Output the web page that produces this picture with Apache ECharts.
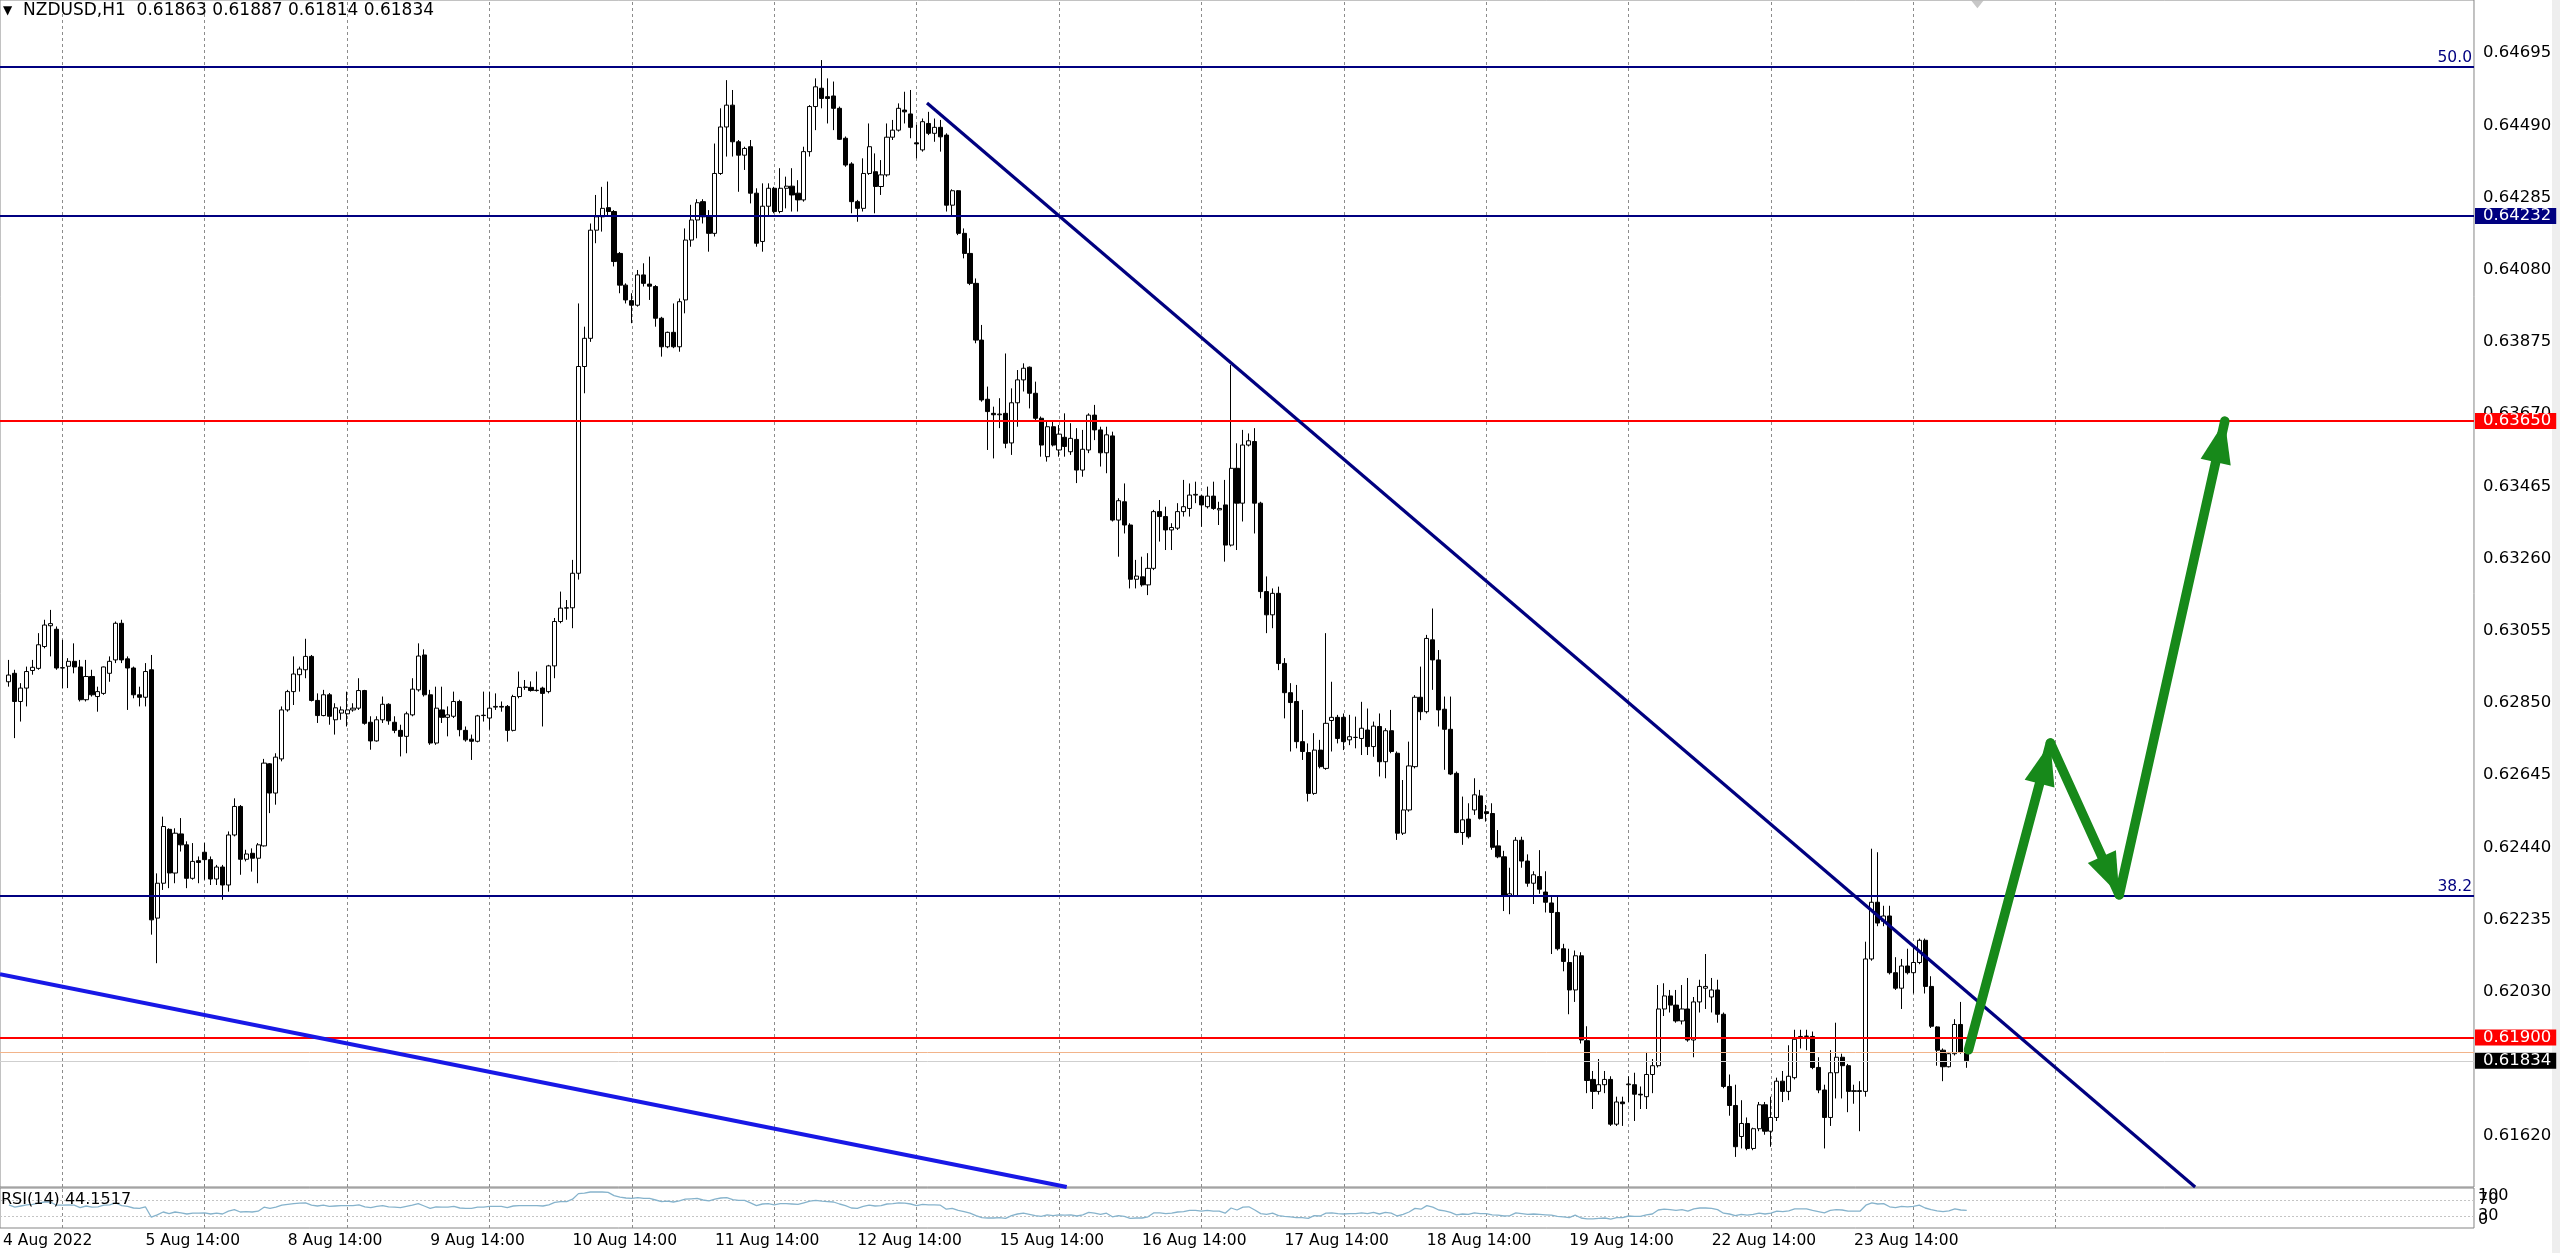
<!DOCTYPE html>
<html><head><meta charset="utf-8">
<script src="https://cdn.jsdelivr.net/npm/echarts@6/dist/echarts.min.js"></script>
<style>html,body{margin:0;padding:0;background:#fff;overflow:hidden}#c{width:2560px;height:1253px}</style>
</head><body><div id="c"></div>
<script>
// ---------- DATA (NZDUSD H1, bar 0 = 4 Aug 15:00) ----------
const symbolName = 'NZDUSD,H1';
const open = [
0.62910,0.62934,0.62854,0.62892,0.62942,0.62948,0.63010,0.63069,0.63059,0.62949,0.62954,0.62968,0.62952,0.62859,0.62925,0.62868,0.62877,0.62934,0.62972,0.63076,0.62975,0.62949,0.62873,0.62866,
0.62944,0.62239,0.62338,0.62491,0.62367,0.62478,0.62447,0.62352,0.62402,0.62426,0.62405,0.62350,0.62384,0.62333,0.62475,0.62556,0.62406,0.62423,0.62409,0.62444,0.62677,0.62594,0.62691,0.62830,
0.62882,0.62930,0.62944,0.62982,0.62857,0.62814,0.62873,0.62802,0.62821,0.62819,0.62830,0.62835,0.62885,0.62795,0.62742,0.62802,0.62846,0.62795,0.62772,0.62755,0.62816,0.62887,0.62986,0.62873,
0.62736,0.62830,0.62809,0.62812,0.62854,0.62772,0.62747,0.62741,0.62814,0.62807,0.62838,0.62840,0.62840,0.62772,0.62868,0.62894,0.62894,0.62885,0.62892,0.62882,0.62955,0.63081,0.63119,0.63120,
0.63218,0.63805,0.63885,0.64192,0.64230,0.64256,0.64245,0.64126,0.64036,0.63992,0.63979,0.64065,0.64039,0.64032,0.63942,0.63861,0.63902,0.63861,0.63994,0.64164,0.64221,0.64273,0.64230,0.64183,
0.64353,0.64485,0.64547,0.64443,0.64405,0.64429,0.64297,0.64160,0.64260,0.64311,0.64245,0.64311,0.64317,0.64297,0.64278,0.64415,0.64543,0.64595,0.64571,0.64573,0.64538,0.64453,0.64380,0.64273,
0.64254,0.64353,0.64358,0.64316,0.64349,0.64456,0.64476,0.64533,0.64522,0.64440,0.64420,0.64495,0.64467,0.64484,0.64462,0.64263,0.64304,0.64183,0.64126,0.64041,0.63880,0.63712,0.63672,0.63668,
0.63672,0.63588,0.63702,0.63767,0.63803,0.63729,0.63658,0.63549,0.63634,0.63568,0.63604,0.63563,0.63598,0.63511,0.63568,0.63667,0.63625,0.63560,0.63608,0.63369,0.63421,0.63355,0.63201,0.63208,
0.63185,0.63232,0.63393,0.63379,0.63341,0.63346,0.63393,0.63402,0.63440,0.63437,0.63407,0.63437,0.63398,0.63412,0.63298,0.63516,0.63417,0.63582,0.63592,0.63417,0.63166,0.63100,0.63161,0.62962,
0.62879,0.62854,0.62740,0.62709,0.62593,0.62716,0.62664,0.62800,0.62809,0.62809,0.62745,0.62752,0.62749,0.62773,0.62726,0.62783,0.62683,0.62771,0.62707,0.62480,0.62546,0.62669,0.62866,0.62825,
0.63029,0.62972,0.62832,0.62775,0.62650,0.62482,0.62520,0.62546,0.62586,0.62541,0.62536,0.62444,0.62413,0.62303,0.62303,0.62460,0.62401,0.62338,0.62357,0.62313,0.62282,0.62255,0.62152,0.62113,
0.62035,0.62132,0.61891,0.61781,0.61747,0.61766,0.61781,0.61654,0.61717,0.61766,0.61766,0.61739,0.61732,0.61795,0.61820,0.61981,0.62018,0.61992,0.61947,0.61981,0.61893,0.62001,0.62040,0.62015,
0.62035,0.61966,0.61761,0.61707,0.61619,0.61656,0.61585,0.61641,0.61709,0.61634,0.61673,0.61776,0.61747,0.61786,0.61898,0.61903,0.61903,0.61815,0.61751,0.61673,0.61800,0.61844,0.61820,0.61747,
0.61749,0.61747,0.62123,0.62284,0.62230,0.62245,0.62084,0.62040,0.62103,0.62084,0.62113,0.62176,0.62045,0.61930,0.61864,0.61817,0.61854,0.61937,0.61863];
const high = [
0.62972,0.62944,0.62906,0.62953,0.62972,0.63048,0.63086,0.63114,0.63067,0.63029,0.62977,0.63019,0.62972,0.62972,0.62944,0.62896,0.62953,0.62982,0.63081,0.63086,0.62982,0.62953,0.62896,0.62963,
0.62986,0.62366,0.62527,0.62494,0.62494,0.62523,0.62457,0.62452,0.62414,0.62452,0.62414,0.62390,0.62390,0.62485,0.62579,0.62560,0.62433,0.62437,0.62452,0.62691,0.62679,0.62707,0.62840,0.62887,
0.62982,0.62953,0.63032,0.62986,0.62877,0.62887,0.62878,0.62849,0.62840,0.62882,0.62849,0.62920,0.62887,0.62812,0.62812,0.62868,0.62849,0.62812,0.62788,0.62825,0.62920,0.63019,0.63002,0.62887,
0.62896,0.62896,0.62840,0.62882,0.62859,0.62783,0.62760,0.62816,0.62882,0.62882,0.62877,0.62854,0.62844,0.62873,0.62939,0.62915,0.62911,0.62939,0.62896,0.62958,0.63091,0.63166,0.63142,0.63256,
0.63984,0.63918,0.64211,0.64292,0.64315,0.64330,0.64249,0.64130,0.64041,0.64013,0.64079,0.64098,0.64117,0.64036,0.63946,0.63904,0.63984,0.63998,0.64197,0.64264,0.64280,0.64280,0.64249,0.64438,
0.64538,0.64618,0.64590,0.64448,0.64429,0.64448,0.64311,0.64325,0.64325,0.64315,0.64368,0.64344,0.64368,0.64334,0.64429,0.64547,0.64623,0.64675,0.64623,0.64614,0.64543,0.64458,0.64385,0.64278,
0.64396,0.64495,0.64410,0.64391,0.64495,0.64505,0.64552,0.64585,0.64590,0.64491,0.64509,0.64528,0.64509,0.64505,0.64467,0.64308,0.64306,0.64197,0.64169,0.64055,0.63923,0.63748,0.63691,0.63715,
0.63842,0.63743,0.63795,0.63814,0.63805,0.63762,0.63663,0.63648,0.63648,0.63639,0.63672,0.63644,0.63630,0.63625,0.63672,0.63696,0.63634,0.63634,0.63620,0.63431,0.63473,0.63360,0.63256,0.63265,
0.63275,0.63398,0.63426,0.63407,0.63360,0.63417,0.63483,0.63473,0.63478,0.63440,0.63464,0.63478,0.63421,0.63483,0.63809,0.63587,0.63625,0.63615,0.63630,0.63421,0.63209,0.63175,0.63180,0.62977,
0.62906,0.62901,0.62830,0.62735,0.62764,0.62745,0.63048,0.62910,0.62816,0.62820,0.62816,0.62811,0.62853,0.62834,0.62797,0.62820,0.62778,0.62830,0.62712,0.62631,0.62740,0.62872,0.62953,0.63043,
0.63118,0.63000,0.62868,0.62868,0.62655,0.62584,0.62565,0.62636,0.62603,0.62560,0.62565,0.62489,0.62430,0.62382,0.62469,0.62470,0.62420,0.62372,0.62432,0.62372,0.62303,0.62303,0.62166,0.62152,
0.62147,0.62142,0.61932,0.61805,0.61839,0.61805,0.61790,0.61732,0.61732,0.61790,0.61800,0.61761,0.61859,0.61839,0.62049,0.62054,0.62035,0.62035,0.62049,0.62069,0.62015,0.62064,0.62137,0.62069,
0.62064,0.61971,0.61795,0.61766,0.61722,0.61673,0.61644,0.61717,0.61717,0.61732,0.61786,0.61805,0.61878,0.61922,0.61922,0.61922,0.61917,0.61844,0.61766,0.61864,0.61942,0.61854,0.61825,0.61766,
0.61776,0.62172,0.62436,0.62426,0.62274,0.62274,0.62128,0.62123,0.62152,0.62157,0.62181,0.62181,0.62074,0.61932,0.61869,0.61859,0.61952,0.62001,0.61887];
const low = [
0.62896,0.62750,0.62797,0.62840,0.62930,0.62944,0.63005,0.62982,0.62944,0.62892,0.62892,0.62934,0.62854,0.62854,0.62868,0.62825,0.62873,0.62910,0.62963,0.62963,0.62830,0.62863,0.62840,0.62840,
0.62192,0.62111,0.62319,0.62324,0.62338,0.62428,0.62324,0.62348,0.62338,0.62348,0.62333,0.62333,0.62291,0.62314,0.62471,0.62362,0.62400,0.62371,0.62338,0.62442,0.62537,0.62561,0.62684,0.62825,
0.62844,0.62882,0.62920,0.62854,0.62793,0.62812,0.62788,0.62760,0.62802,0.62783,0.62825,0.62830,0.62788,0.62717,0.62740,0.62793,0.62788,0.62764,0.62698,0.62707,0.62812,0.62882,0.62868,0.62731,
0.62731,0.62793,0.62755,0.62807,0.62755,0.62740,0.62688,0.62738,0.62797,0.62774,0.62830,0.62825,0.62740,0.62769,0.62863,0.62887,0.62882,0.62882,0.62783,0.62877,0.62920,0.63076,0.63086,0.63062,
0.63200,0.63729,0.63875,0.64155,0.64188,0.64235,0.64089,0.64013,0.63984,0.63928,0.63975,0.64032,0.63994,0.63918,0.63833,0.63857,0.63857,0.63847,0.63956,0.64145,0.64169,0.64211,0.64131,0.64174,
0.64349,0.64401,0.64401,0.64301,0.64363,0.64268,0.64145,0.64131,0.64235,0.64240,0.64240,0.64254,0.64245,0.64245,0.64273,0.64401,0.64476,0.64538,0.64495,0.64476,0.64448,0.64372,0.64240,0.64216,
0.64245,0.64349,0.64240,0.64292,0.64344,0.64448,0.64472,0.64495,0.64453,0.64396,0.64415,0.64462,0.64443,0.64415,0.64245,0.64235,0.64178,0.64112,0.64036,0.63871,0.63705,0.63568,0.63544,0.63630,
0.63573,0.63554,0.63634,0.63734,0.63686,0.63653,0.63549,0.63535,0.63578,0.63549,0.63549,0.63554,0.63474,0.63492,0.63559,0.63596,0.63521,0.63502,0.63365,0.63265,0.63331,0.63175,0.63175,0.63180,
0.63156,0.63227,0.63308,0.63284,0.63284,0.63341,0.63379,0.63379,0.63417,0.63350,0.63402,0.63398,0.63355,0.63251,0.63294,0.63284,0.63365,0.63578,0.63331,0.63147,0.63048,0.63062,0.62943,0.62806,
0.62712,0.62721,0.62688,0.62570,0.62589,0.62664,0.62660,0.62712,0.62735,0.62716,0.62730,0.62721,0.62702,0.62702,0.62697,0.62641,0.62636,0.62707,0.62461,0.62475,0.62541,0.62664,0.62801,0.62820,
0.62887,0.62783,0.62660,0.62645,0.62480,0.62447,0.62465,0.62532,0.62519,0.62513,0.62433,0.62409,0.62259,0.62250,0.62299,0.62382,0.62328,0.62279,0.62308,0.62255,0.62137,0.62147,0.62088,0.61966,
0.62001,0.61883,0.61742,0.61697,0.61738,0.61742,0.61649,0.61649,0.61649,0.61717,0.61663,0.61697,0.61697,0.61742,0.61815,0.61961,0.61971,0.61942,0.61937,0.61888,0.61844,0.61971,0.61981,0.61971,
0.61942,0.61756,0.61678,0.61561,0.61585,0.61580,0.61580,0.61634,0.61624,0.61590,0.61663,0.61717,0.61722,0.61781,0.61869,0.61864,0.61810,0.61742,0.61585,0.61649,0.61727,0.61727,0.61688,0.61712,
0.61634,0.61732,0.62118,0.62216,0.62216,0.62079,0.62035,0.61981,0.62079,0.62025,0.62108,0.62025,0.61927,0.61820,0.61776,0.61815,0.61849,0.61854,0.61814];
const close = [
0.62929,0.62854,0.62892,0.62939,0.62951,0.63015,0.63071,0.63075,0.62949,0.62950,0.62968,0.62952,0.62859,0.62925,0.62873,0.62882,0.62952,0.62968,0.63076,0.62972,0.62949,0.62873,0.62866,0.62939,
0.62234,0.62338,0.62499,0.62367,0.62480,0.62447,0.62352,0.62400,0.62397,0.62405,0.62350,0.62384,0.62333,0.62475,0.62556,0.62406,0.62421,0.62409,0.62447,0.62679,0.62594,0.62696,0.62830,0.62882,
0.62932,0.62946,0.62982,0.62857,0.62814,0.62873,0.62812,0.62836,0.62830,0.62830,0.62835,0.62885,0.62792,0.62742,0.62802,0.62846,0.62799,0.62772,0.62755,0.62819,0.62889,0.62983,0.62873,0.62736,
0.62835,0.62809,0.62816,0.62854,0.62774,0.62745,0.62741,0.62813,0.62815,0.62835,0.62840,0.62838,0.62772,0.62868,0.62894,0.62895,0.62885,0.62886,0.62877,0.62955,0.63081,0.63119,0.63120,0.63218,
0.63805,0.63885,0.64192,0.64230,0.64254,0.64245,0.64103,0.64036,0.63994,0.63979,0.64065,0.64041,0.64033,0.63942,0.63861,0.63902,0.63861,0.63989,0.64164,0.64221,0.64270,0.64230,0.64183,0.64353,
0.64485,0.64547,0.64443,0.64405,0.64424,0.64297,0.64155,0.64260,0.64311,0.64245,0.64311,0.64317,0.64292,0.64278,0.64415,0.64543,0.64599,0.64566,0.64566,0.64538,0.64450,0.64377,0.64273,0.64254,
0.64353,0.64429,0.64316,0.64349,0.64456,0.64476,0.64538,0.64528,0.64484,0.64437,0.64500,0.64467,0.64484,0.64457,0.64263,0.64304,0.64183,0.64126,0.64041,0.63880,0.63710,0.63677,0.63668,0.63670,
0.63587,0.63702,0.63767,0.63800,0.63729,0.63658,0.63582,0.63634,0.63582,0.63613,0.63578,0.63601,0.63511,0.63570,0.63667,0.63625,0.63560,0.63611,0.63369,0.63424,0.63355,0.63201,0.63210,0.63185,
0.63232,0.63393,0.63379,0.63341,0.63348,0.63393,0.63407,0.63440,0.63442,0.63412,0.63437,0.63402,0.63402,0.63298,0.63516,0.63417,0.63582,0.63594,0.63417,0.63166,0.63100,0.63161,0.62962,0.62879,
0.62851,0.62740,0.62712,0.62593,0.62716,0.62669,0.62792,0.62809,0.62749,0.62740,0.62754,0.62752,0.62778,0.62726,0.62784,0.62683,0.62771,0.62712,0.62480,0.62546,0.62671,0.62866,0.62825,0.63033,
0.62972,0.62830,0.62775,0.62648,0.62482,0.62518,0.62470,0.62589,0.62522,0.62536,0.62440,0.62413,0.62303,0.62308,0.62460,0.62401,0.62338,0.62362,0.62321,0.62284,0.62255,0.62152,0.62116,0.62035,
0.62132,0.61893,0.61778,0.61747,0.61766,0.61781,0.61654,0.61717,0.61712,0.61768,0.61739,0.61737,0.61795,0.61820,0.61981,0.62018,0.61992,0.61947,0.61981,0.61893,0.62001,0.62045,0.62045,0.62035,
0.61966,0.61761,0.61707,0.61590,0.61656,0.61585,0.61641,0.61709,0.61634,0.61673,0.61776,0.61747,0.61790,0.61895,0.61903,0.61904,0.61815,0.61751,0.61673,0.61800,0.61844,0.61820,0.61747,0.61749,
0.61747,0.62123,0.62284,0.62225,0.62245,0.62084,0.62040,0.62103,0.62084,0.62113,0.62176,0.62045,0.61932,0.61864,0.61817,0.61854,0.61937,0.61859,0.61834];
const rsi = [
58,52,55,58,59,62,65,65,57,57,58,57,51,55,52,53,57,58,63,56,54,50,49,53,
27,33,40,36,40,38,35,37,37,38,35,37,35,42,46,40,41,40,42,52,49,52,57,59,
61,62,63,57,55,57,54,55,56,56,56,58,53,51,54,56,53,52,51,54,57,61,55,49,
53,52,52,54,50,49,49,52,52,54,54,54,51,55,56,56,56,56,55,58,64,66,66,72,
86,87,90,90,90,89,81,77,75,74,76,74,74,70,66,67,65,68,72,73,74,70,68,72,
75,76,71,69,69,63,56,60,61,58,61,61,60,59,63,67,69,67,66,65,60,56,50,49,
54,57,55,56,60,61,63,62,60,56,59,58,58,57,47,49,44,41,37,31,26,25,25,26,
24,31,35,37,34,31,29,33,31,33,32,33,30,33,39,37,34,37,28,31,29,24,25,25,
28,38,38,36,37,40,41,44,44,42,44,42,42,37,50,45,52,53,45,36,34,37,31,29,
28,26,26,24,31,30,37,38,36,35,36,36,38,36,39,35,39,37,30,34,40,49,47,56,
52,45,43,39,33,35,34,38,36,36,33,32,30,31,38,36,34,35,34,33,32,29,28,26,
32,25,23,23,24,25,22,26,26,30,29,29,33,35,45,47,46,44,46,42,48,50,50,49,
46,37,35,31,34,32,34,37,35,37,42,41,43,48,48,48,44,41,38,44,46,45,42,42,
42,57,63,60,61,53,51,54,53,54,57,50,46,43,41,43,48,45,44.1517];
const timeTickLabels = ['4 Aug 2022','5 Aug 14:00','8 Aug 14:00','9 Aug 14:00','10 Aug 14:00','11 Aug 14:00','12 Aug 14:00',
  '15 Aug 14:00','16 Aug 14:00','17 Aug 14:00','18 Aug 14:00','19 Aug 14:00','22 Aug 14:00','23 Aug 14:00'];
const priceTicks = [0.61620,0.61825,0.62030,0.62235,0.62440,0.62645,0.62850,0.63055,0.63260,0.63465,0.63670,0.63875,0.64080,0.64285,0.64490,0.64695];
const rsiMidTicks = [30,70];
const rsiTopTick = [100];
const rsiBottomTick = [0];
const rsiLevels = [70,30];
const levelPrices = [0.64656,0.64232,0.63650,0.62302,0.61900,0.61859,0.61834];
const levelTexts  = ['50.0','0.64232','0.63650','38.2','0.61900','','0.61834'];
const levelKinds  = ['fiboNavy','boxNavy','boxRed','fiboNavy','boxRed','ask','boxBlack'];
const trendNavy = [[154.75,0.64553],[368.5,0.614756]];   // [bar index, price]
const trendBlue = [[-1.5,0.62080],[178.3,0.614756]];
const arrowPath = [[330.3,0.61865],[344.1,0.62736],[355.7,0.62305],[373.5,0.63650]];
const shiftMarker = [331.8,0.64836];
const dayStartBars = [9,33,57,81,105,129,153,177,201,225,249,273,297,321,345]; // 00:00 bars
const labelBars = [-1,23,47,71,95,119,143,167,191,215,239,263,287,311];
const priceMin = 0.614756, priceMax = 0.648455;

// ---------- LAYOUT ----------
const FONT = 'DejaVu Sans';
const N_CAT = 417;              // category 0 = 4 Aug 14:00 (no bar), bar i -> category i+1
const G_LEFT = -4.41, G_W = 2478.4;
const cats = Array.from({length:N_CAT},(_,k)=>String(k));
const cx = i => i + 1;

const candleData = open.map((o,i)=>[cx(i), o, close[i], low[i], high[i]]);
const rsiData = rsi.map((v,i)=>[cx(i), v]);
const labelCats = labelBars.map(cx);

const levelStyle = {
  fiboNavy:{color:'#000080',width:2},
  boxNavy:{color:'#000080',width:2},
  boxRed:{color:'#ff0000',width:2},
  ask:{color:'#f2b48a',width:1},
  boxBlack:{color:'#cfcfcf',width:1}
};
const boxBg = {boxNavy:'#000080',boxRed:'#ff0000',boxBlack:'#000000'};
const levelData = levelPrices.map((p,k)=>{
  const kind = levelKinds[k];
  const item = {yAxis:p, lineStyle:Object.assign({type:'solid'},levelStyle[kind])};
  if (kind==='fiboNavy') {
    item.label = {show:true, position:'insideEndTop', formatter:levelTexts[k], color:'#000080',
      fontSize:15.5, fontFamily:FONT, distance:[2,1]};
  } else if (boxBg[kind]) {
    item.label = {show:true, position:'end', formatter:levelTexts[k], color:'#ffffff',
      backgroundColor:boxBg[kind], fontSize:16.5, fontFamily:FONT, lineHeight:16,
      padding:[0,5,0,8], distance:1};
  } else item.label = {show:false};
  return item;
});
const seg = (a,b,style)=>[{coord:[cx(a[0]),a[1]], lineStyle:style},{coord:[cx(b[0]),b[1]]}];
const drawLines = [
  seg(trendNavy[0],trendNavy[1],{color:'#000080',width:3.2,type:'solid'}),
  seg(trendBlue[0],trendBlue[1],{color:'#1818e6',width:4,type:'solid'})
];
const arrowLines = [];
for (let k=0;k<arrowPath.length-1;k++) arrowLines.push(seg(arrowPath[k],arrowPath[k+1],{color:'#17891a',width:9.5,type:'solid',cap:'round'}));
// arrow head: tip at the centre of its bounding box so the tip sits on the end point
const ARROW_HEAD = 'path://M0,-30L0,-30M0,0L11,30L-11,30Z';

const chart = echarts.init(document.getElementById('c'), null, {renderer:'canvas'});
chart.setOption({
  animation:false,
  backgroundColor:'#ffffff',
  title:[
    {text:'{t|▼}  '+symbolName+'  '+[open[open.length-1],high[high.length-1],low[low.length-1],close[close.length-1]].map(v=>v.toFixed(5)).join(' '),
     left:3, top:2, padding:0,
     textStyle:{fontSize:17, fontWeight:'normal', fontFamily:FONT, color:'#000',
       rich:{t:{fontSize:12, fontFamily:FONT, color:'#000'}}}},
    {text:'RSI(14) '+rsi[rsi.length-1].toFixed(4), left:1, top:1192, padding:0,
     textStyle:{fontSize:16, fontWeight:'normal', fontFamily:FONT, color:'#000'}}
  ],
  graphic:[
    {type:'rect', right:0, top:0, shape:{width:8, height:1253}, style:{fill:'#eeeeee'}, silent:true}
  ],
  grid:[
    {left:G_LEFT, top:0, width:G_W, height:1187, show:true, borderColor:'#858585', borderWidth:1, backgroundColor:'#fff'},
    {left:G_LEFT, top:1188, width:G_W, height:40, show:true, borderColor:'#858585', borderWidth:1, backgroundColor:'#fff'}
  ],
  xAxis:[
    {type:'category', gridIndex:0, data:cats, boundaryGap:true, show:false},
    {type:'value', gridIndex:0, min:-0.5, max:N_CAT-0.5, show:false},
    {type:'category', gridIndex:1, data:cats, boundaryGap:true,
      axisLine:{show:false}, axisTick:{show:false}, splitLine:{show:false},
      axisLabel:{show:true, interval:(idx)=>labelCats.indexOf(idx)>=0,
        formatter:(v,idx)=>timeTickLabels[labelCats.indexOf(idx)] || '',
        align:'left', margin:5, fontSize:15.5, fontFamily:FONT, color:'#000'}}
  ],
  yAxis:[
    {type:'value', gridIndex:0, position:'right', min:priceMin, max:priceMax,
      axisLine:{show:false}, splitLine:{show:false}, axisTick:{show:false},
      axisLabel:{show:true, customValues:priceTicks, formatter:v=>v.toFixed(5), margin:9,
        fontSize:16.5, fontFamily:FONT, color:'#000'}},
    {type:'value', gridIndex:1, position:'right', min:0, max:100,
      axisLine:{show:false}, splitLine:{show:false}, axisTick:{show:false},
      axisLabel:{show:true, customValues:rsiMidTicks, formatter:v=>String(v), margin:4, fontSize:16, fontFamily:FONT, color:'#000',
        showMinLabel:true, showMaxLabel:true}},
    {type:'value', gridIndex:1, position:'right', min:0, max:100,
      axisLine:{show:false}, splitLine:{show:false}, axisTick:{show:false},
      axisLabel:{show:true, customValues:rsiTopTick, formatter:v=>String(v), margin:4, fontSize:16, fontFamily:FONT, color:'#000',
        verticalAlign:'top', showMinLabel:true, showMaxLabel:true}},
    {type:'value', gridIndex:1, position:'right', min:0, max:100,
      axisLine:{show:false}, splitLine:{show:false}, axisTick:{show:false},
      axisLabel:{show:true, customValues:rsiBottomTick, formatter:v=>String(v), margin:4, fontSize:16, fontFamily:FONT, color:'#000',
        verticalAlign:'bottom', showMinLabel:true, showMaxLabel:true}}
  ],
  series:[
    {type:'line', name:'grid', xAxisIndex:0, yAxisIndex:0, data:[], silent:true, z:1,
      markLine:{silent:true, symbol:'none', z:1, precision:6, animation:false, label:{show:false},
        lineStyle:{color:'#8c8c8c', type:[3,3], width:1},
        data:dayStartBars.map(b=>({xAxis:cx(b)}))}},
    {type:'candlestick', name:'NZDUSD', xAxisIndex:0, yAxisIndex:0, data:candleData,
      encode:{x:0, y:[1,2,3,4]}, barWidth:4.6, z:3,
      itemStyle:{color:'#ffffff', color0:'#000000', borderColor:'#000000', borderColor0:'#000000', borderWidth:1}},
    {type:'line', name:'levels', xAxisIndex:1, yAxisIndex:0, data:[], silent:true, z:5,
      markLine:{silent:true, symbol:'none', precision:6, animation:false, z:6, data:levelData.concat(drawLines)}},
    {type:'line', name:'arrows', xAxisIndex:1, yAxisIndex:0, data:[], silent:true, z:7,
      markLine:{silent:true, animation:false, z:7, precision:6, symbol:['none',ARROW_HEAD], symbolSize:84,
        symbolKeepAspect:true, label:{show:false}, data:arrowLines}},
    {type:'scatter', name:'shift', xAxisIndex:1, yAxisIndex:0, data:[[cx(shiftMarker[0]),shiftMarker[1]]],
      symbol:'triangle', symbolRotate:180, symbolSize:[16,10], itemStyle:{color:'#b9b9b9'}, silent:true, z:8},
    {type:'line', name:'rsigrid', xAxisIndex:2, yAxisIndex:1, data:[], silent:true, z:1,
      markLine:{silent:true, symbol:'none', z:1, precision:6, animation:false, label:{show:false},
        data:dayStartBars.map(b=>({xAxis:cx(b), lineStyle:{color:'#8c8c8c', type:[3,3], width:1}}))
          .concat(rsiLevels.map(v=>({yAxis:v, lineStyle:{color:'#c4c4c4', type:[2,2], width:1}})))}},
    {type:'line', name:'RSI', xAxisIndex:2, yAxisIndex:1, data:rsiData, showSymbol:false, silent:true, z:3,
      lineStyle:{color:'#86b3cc', width:1.3}}
  ]
});
</script>
</body></html>
